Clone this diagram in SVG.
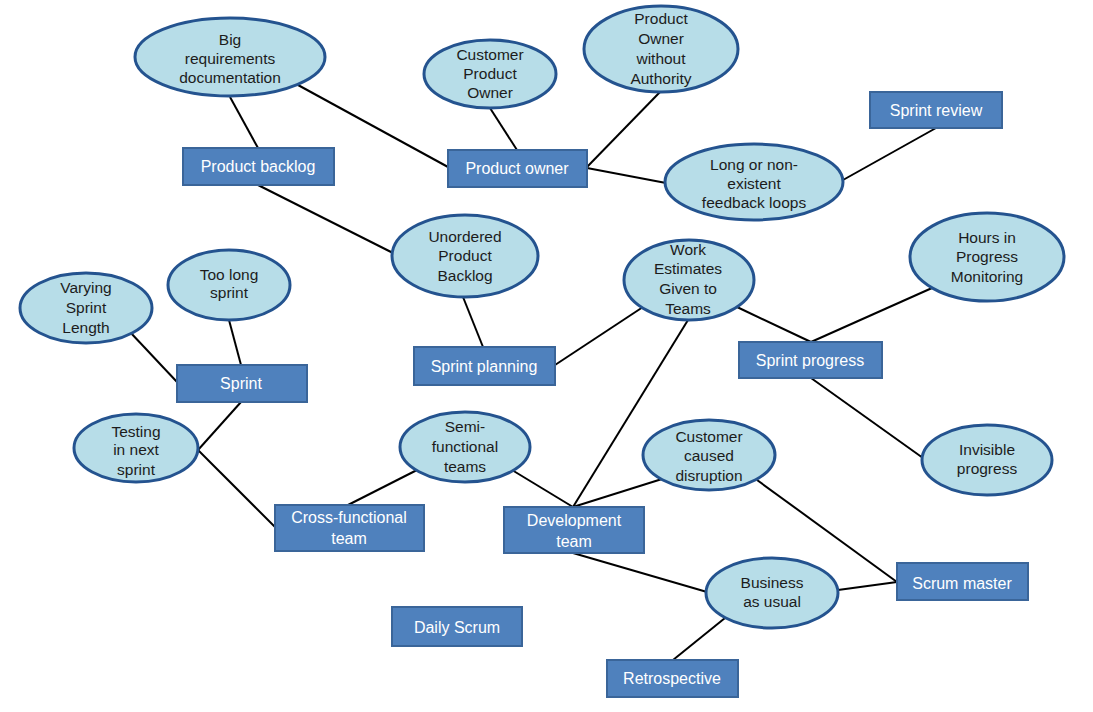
<svg xmlns="http://www.w3.org/2000/svg" width="1093" height="712" viewBox="0 0 1093 712">
<style>
.e{fill:#b7dde8;stroke:#24538f;stroke-width:3}
.r{fill:#4f81bd;stroke:#3a6599;stroke-width:2}
.et{font-family:"Liberation Sans",Arial,sans-serif;font-size:15.5px;fill:#1c1c1c;text-anchor:middle}
.rt{font-family:"Liberation Sans",Arial,sans-serif;font-size:16px;fill:#ffffff;text-anchor:middle}
.c line{stroke:#000;stroke-width:2}
</style>
<rect width="1093" height="712" fill="#fff"/>
<g class="c" id="connectors">
<line x1="230" y1="97" x2="258" y2="148"/>
<line x1="298" y1="85" x2="448" y2="167"/>
<line x1="490" y1="108" x2="517" y2="150"/>
<line x1="660" y1="92" x2="587" y2="167"/>
<line x1="587" y1="168" x2="666" y2="183"/>
<line x1="843" y1="180" x2="936" y2="128"/>
<line x1="258" y1="185" x2="393" y2="253"/>
<line x1="463" y1="297" x2="483" y2="347"/>
<line x1="555" y1="365" x2="643" y2="307"/>
<line x1="688" y1="320" x2="573" y2="507"/>
<line x1="737" y1="307" x2="811" y2="342"/>
<line x1="811" y1="342" x2="932" y2="288"/>
<line x1="811" y1="378" x2="923" y2="458"/>
<line x1="130" y1="332" x2="177" y2="382"/>
<line x1="229" y1="320" x2="241" y2="365"/>
<line x1="241" y1="402" x2="198" y2="450"/>
<line x1="198" y1="450" x2="275" y2="527"/>
<line x1="348" y1="505" x2="417" y2="470"/>
<line x1="512" y1="470" x2="573" y2="507"/>
<line x1="573" y1="507" x2="662" y2="479"/>
<line x1="757" y1="480" x2="897" y2="582"/>
<line x1="838" y1="590" x2="897" y2="582"/>
<line x1="573" y1="553" x2="707" y2="592"/>
<line x1="725" y1="618" x2="673" y2="660"/>
</g>
<g id="big-requirements"><ellipse class="e" cx="230" cy="57" rx="95" ry="39"/><text class="et"><tspan x="230" y="45">Big</tspan><tspan x="230" y="64">requirements</tspan><tspan x="230" y="83">documentation</tspan></text></g>
<g id="customer-po"><ellipse class="e" cx="490" cy="74" rx="66" ry="34"/><text class="et"><tspan x="490" y="60">Customer</tspan><tspan x="490" y="79">Product</tspan><tspan x="490" y="98">Owner</tspan></text></g>
<g id="po-without-authority"><ellipse class="e" cx="661" cy="49" rx="77" ry="43"/><text class="et"><tspan x="661" y="24">Product</tspan><tspan x="661" y="44">Owner</tspan><tspan x="661" y="64">without</tspan><tspan x="661" y="84">Authority</tspan></text></g>
<g id="feedback-loops"><ellipse class="e" cx="754" cy="182" rx="89" ry="38"/><text class="et"><tspan x="754" y="170">Long or non-</tspan><tspan x="754" y="189">existent</tspan><tspan x="754" y="208">feedback loops</tspan></text></g>
<g id="unordered-backlog"><ellipse class="e" cx="465" cy="256" rx="73" ry="41"/><text class="et"><tspan x="465" y="242">Unordered</tspan><tspan x="465" y="261">Product</tspan><tspan x="465" y="281">Backlog</tspan></text></g>
<g id="work-estimates"><ellipse class="e" cx="689" cy="280" rx="65" ry="40"/><text class="et"><tspan x="688" y="255">Work</tspan><tspan x="688" y="274">Estimates</tspan><tspan x="688" y="294">Given to</tspan><tspan x="688" y="314">Teams</tspan></text></g>
<g id="hours-monitoring"><ellipse class="e" cx="987" cy="257" rx="77" ry="44"/><text class="et"><tspan x="987" y="243">Hours in</tspan><tspan x="987" y="262">Progress</tspan><tspan x="987" y="282">Monitoring</tspan></text></g>
<g id="invisible-progress"><ellipse class="e" cx="987" cy="460" rx="65" ry="35"/><text class="et"><tspan x="987" y="455">Invisible</tspan><tspan x="987" y="474">progress</tspan></text></g>
<g id="customer-disruption"><ellipse class="e" cx="709" cy="455" rx="66" ry="35"/><text class="et"><tspan x="709" y="442">Customer</tspan><tspan x="709" y="461">caused</tspan><tspan x="709" y="481">disruption</tspan></text></g>
<g id="varying-length"><ellipse class="e" cx="86" cy="308" rx="66" ry="35"/><text class="et"><tspan x="86" y="293">Varying</tspan><tspan x="86" y="313">Sprint</tspan><tspan x="86" y="333">Length</tspan></text></g>
<g id="too-long-sprint"><ellipse class="e" cx="229" cy="285" rx="61" ry="35"/><text class="et"><tspan x="229" y="280">Too long</tspan><tspan x="229" y="298">sprint</tspan></text></g>
<g id="testing-next"><ellipse class="e" cx="136" cy="448" rx="62" ry="34"/><text class="et"><tspan x="136" y="437">Testing</tspan><tspan x="136" y="455">in next</tspan><tspan x="136" y="475">sprint</tspan></text></g>
<g id="semi-functional"><ellipse class="e" cx="465" cy="447" rx="65" ry="35"/><text class="et"><tspan x="465" y="432">Semi-</tspan><tspan x="465" y="452">functional</tspan><tspan x="465" y="472">teams</tspan></text></g>
<g id="business-as-usual"><ellipse class="e" cx="772" cy="593" rx="66" ry="35"/><text class="et"><tspan x="772" y="588">Business</tspan><tspan x="772" y="607">as usual</tspan></text></g>
<g id="product-backlog"><rect class="r" x="183" y="148" width="151" height="37"/><text class="rt" x="258" y="172">Product backlog</text></g>
<g id="product-owner"><rect class="r" x="448" y="150" width="139" height="37"/><text class="rt" x="517" y="174">Product owner</text></g>
<g id="sprint-review"><rect class="r" x="870" y="92" width="132" height="36"/><text class="rt" x="936" y="116">Sprint review</text></g>
<g id="sprint-planning"><rect class="r" x="414" y="347" width="141" height="38"/><text class="rt" x="484" y="372">Sprint planning</text></g>
<g id="sprint-progress"><rect class="r" x="739" y="342" width="143" height="36"/><text class="rt" x="810" y="366">Sprint progress</text></g>
<g id="sprint"><rect class="r" x="177" y="365" width="130" height="37"/><text class="rt" x="241" y="389">Sprint</text></g>
<g id="cross-functional"><rect class="r" x="275" y="505" width="149" height="46"/><text class="rt"><tspan x="349" y="523">Cross-functional</tspan><tspan x="349" y="544">team</tspan></text></g>
<g id="development-team"><rect class="r" x="504" y="507" width="140" height="46"/><text class="rt"><tspan x="574" y="526">Development</tspan><tspan x="574" y="547">team</tspan></text></g>
<g id="daily-scrum"><rect class="r" x="392" y="607" width="130" height="39"/><text class="rt" x="457" y="633">Daily Scrum</text></g>
<g id="retrospective"><rect class="r" x="607" y="660" width="131" height="37"/><text class="rt" x="672" y="684">Retrospective</text></g>
<g id="scrum-master"><rect class="r" x="897" y="563" width="131" height="37"/><text class="rt" x="962" y="589">Scrum master</text></g>
</svg>
